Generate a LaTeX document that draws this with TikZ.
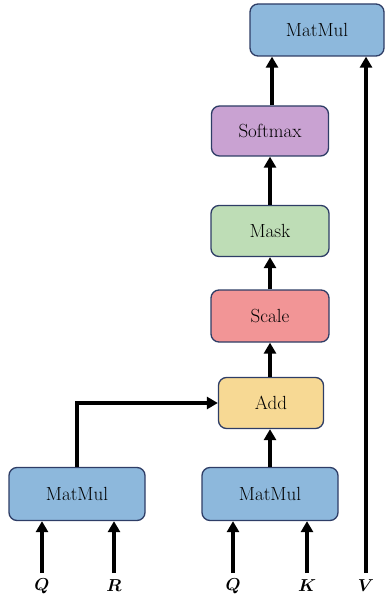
\documentclass[tikz,border=0pt]{standalone}
\usepackage{amsmath}
\usepackage{fontspec}
\usetikzlibrary{arrows.meta}
\definecolor{bblue}{HTML}{8DB8DC}
\definecolor{bpurple}{HTML}{C9A2D2}
\definecolor{bgreen}{HTML}{BEDDB6}
\definecolor{bred}{HTML}{F29596}
\definecolor{byellow}{HTML}{F7D994}
\definecolor{bborder}{HTML}{2E3D66}
\begin{document}
\begin{tikzpicture}[x=1pt,y=-1pt,
  opbox/.style={draw=bborder,line width=1.3pt,rounded corners=8pt,font=\fontsize{19}{21}\selectfont},
  flow/.style={line width=3.3pt,-{Triangle[length=11pt,width=12pt]}},
  lbl/.style={font=\fontsize{19}{21}\selectfont}]
\useasboundingbox (0,0) rectangle (385,601);
\node[opbox,fill=bblue,minimum width=134pt,minimum height=52pt] (top) at (317,30) {MatMul};
\node[opbox,fill=bpurple,minimum width=117pt,minimum height=50pt] (soft) at (270,131) {Softmax};
\node[opbox,fill=bgreen,minimum width=118pt,minimum height=51pt] (mask) at (270,231) {Mask};
\node[opbox,fill=bred,minimum width=118pt,minimum height=52pt] (scale) at (270,316) {Scale};
\node[opbox,fill=byellow,minimum width=105pt,minimum height=51pt] (add) at (271,403) {Add};
\node[opbox,fill=bblue,minimum width=136pt,minimum height=53pt] (mm1) at (77,494) {MatMul};
\node[opbox,fill=bblue,minimum width=136pt,minimum height=53pt] (mm2) at (270,494) {MatMul};
\node[lbl] (q1) at (42,586) {$\boldsymbol{Q}$};
\node[lbl] (r) at (114,586) {$\boldsymbol{R}$};
\node[lbl] (q2) at (233,586) {$\boldsymbol{Q}$};
\node[lbl] (k) at (307,586) {$\boldsymbol{K}$};
\node[lbl] (v) at (366,586) {$\boldsymbol{V}$};
\coordinate (q1s) at (42,573);
\coordinate (rs) at (114,573);
\coordinate (q2s) at (233,573);
\coordinate (ks) at (307,573);
\coordinate (vs) at (366,573);
\draw[flow] (q1s) -- (q1s |- mm1.south);
\draw[flow] (rs) -- (rs |- mm1.south);
\draw[flow] (q2s) -- (q2s |- mm2.south);
\draw[flow] (ks) -- (ks |- mm2.south);
\draw[flow] (vs) -- (vs |- top.south);
\draw[flow] (mm1.north) |- (add.west);
\draw[flow] (mm2.north) -- (mm2.north |- add.south);
\draw[flow] (add.north -| mm2.north) -- (scale.south -| mm2.north);
\draw[flow] (scale.north) -- (mask.south);
\draw[flow] (mask.north) -- (soft.south);
\draw[flow] (soft.north -| 272,0) -- (272,0 |- top.south);
\end{tikzpicture}
\end{document}
